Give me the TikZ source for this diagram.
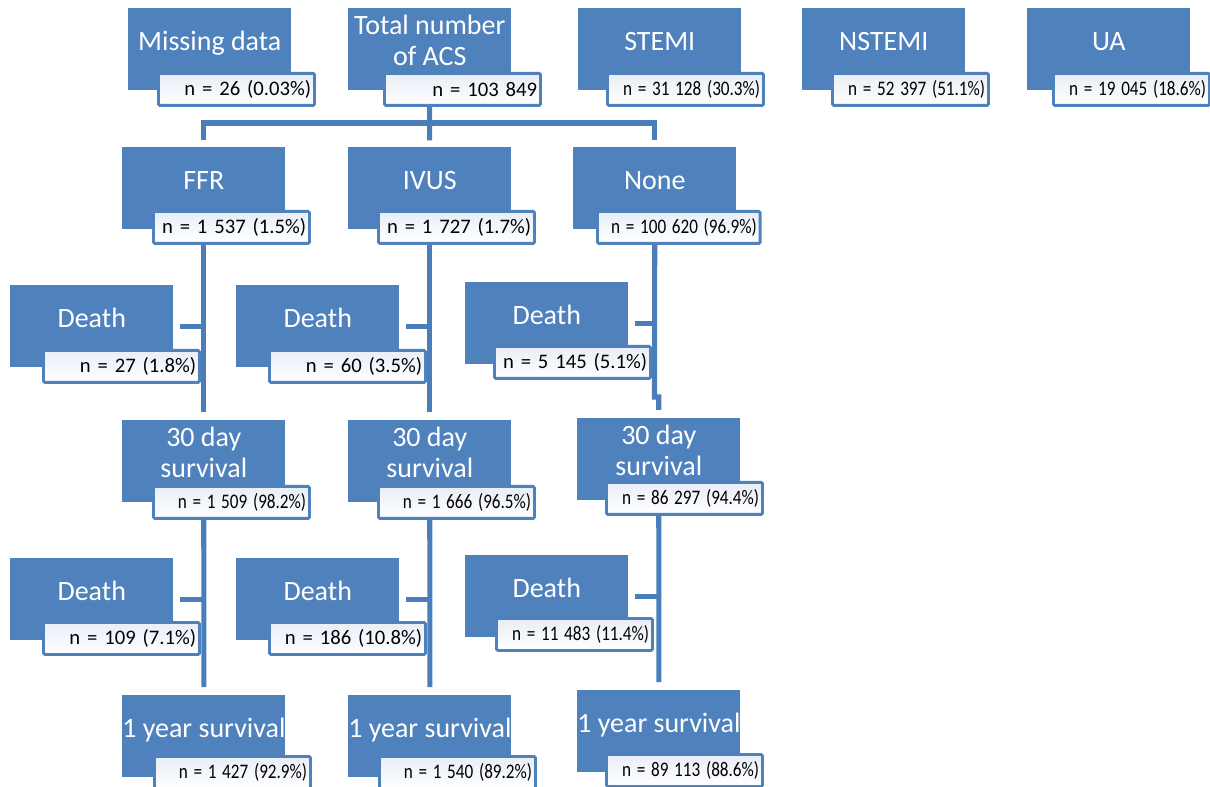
\documentclass[tikz,border=0pt]{standalone}
\usepackage{fontspec}
\setmainfont{Carlito}
\usetikzlibrary{backgrounds}
\definecolor{boxblue}{HTML}{4F81BD}
\definecolor{linkblue}{HTML}{4A7EBA}
\definecolor{lightfill}{HTML}{E8EEF7}
\newcommand\cnd[1]{\scalebox{0.83}[1]{#1}}
\newcommand\nl[1]{\mbox{#1}}
\newcommand\ttl[1]{\raisebox{-1.25pt}[0pt][0pt]{\begin{tabular}{@{}c@{}}#1\end{tabular}}}
\begin{document}
\begin{tikzpicture}[x=0.75pt,y=-0.75pt,
  bluebox/.style={anchor=north west, fill=boxblue, text=white, inner sep=0pt,
    minimum width=122.25pt, minimum height=61.5pt, font=\fontsize{21}{23}\selectfont},
  nbox/.style={anchor=north west, draw=boxblue, line width=2.2pt, top color=lightfill,
    bottom color=white, text=black, inner xsep=2.5pt, inner ysep=0pt, minimum height=24pt,
    text width=112pt, align=right, font=\fontsize{15.5}{18}\selectfont, rounded corners=1pt},
  widenbox/.style={nbox, text width=117pt},
  conn/.style={draw=linkblue, line width=3.8pt}]
\useasboundingbox (0,0) rectangle (1210,787);

% top row
\node[bluebox] (miss) at (128,8) {\ttl{Missing data}};
\node[nbox] (miss-n) at (157,72) {\nl{n = 26 (0.03\%)}};
\node[bluebox] (total) at (348,8) {\ttl{Total number\\of ACS}};
\node[nbox] (total-n) at (383,72) {\nl{n = 103 849}};
\node[bluebox] (stemi) at (578,8) {\ttl{STEMI}};
\node[nbox] (stemi-n) at (606,72) {\cnd{n = 31 128 (30.3\%)}};
\node[bluebox] (nstemi) at (802,8) {\ttl{NSTEMI}};
\node[nbox] (nstemi-n) at (831,72) {\cnd{n = 52 397 (51.1\%)}};
\node[bluebox] (ua) at (1027,8) {\ttl{UA}};
\node[nbox] (ua-n) at (1052,72) {\cnd{n = 19 045 (18.6\%)}};

% second row
\node[bluebox] (ffr) at (122,147) {\ttl{FFR}};
\node[nbox] (ffr-n) at (152,210) {\nl{n = 1 537 (1.5\%)}};
\node[bluebox] (ivus) at (348,147) {\ttl{IVUS}};
\node[nbox] (ivus-n) at (377,210) {\nl{n = 1 727 (1.7\%)}};
\node[bluebox] (none) at (573,147) {\ttl{None}};
\node[widenbox] (none-n) at (596,210) {\cnd{n = 100 620 (96.9\%)}};

% death row 1
\node[bluebox] (da1) at (10,285) {\ttl{Death}};
\node[nbox] (da1-n) at (42,349) {\nl{n = 27 (1.8\%)}};
\node[bluebox] (db1) at (236,285) {\ttl{Death}};
\node[nbox] (db1-n) at (268,349) {\nl{n = 60 (3.5\%)}};
\node[bluebox] (dc1) at (465,282) {\ttl{Death}};
\node[nbox] (dc1-n) at (493,345) {\nl{n = 5 145 (5.1\%)}};

% 30 day row
\node[bluebox] (sa) at (122,420) {\ttl{30 day\\survival}};
\node[nbox] (sa-n) at (152,485) {\cnd{n = 1 509 (98.2\%)}};
\node[bluebox] (sb) at (348,420) {\ttl{30 day\\survival}};
\node[nbox] (sb-n) at (377,485) {\cnd{n = 1 666 (96.5\%)}};
\node[bluebox] (sc) at (577,418) {\ttl{30 day\\survival}};
\node[nbox] (sc-n) at (605,481) {\cnd{n = 86 297 (94.4\%)}};

% death row 2
\node[bluebox] (da2) at (10,558) {\ttl{Death}};
\node[nbox] (da2-n) at (42,621) {\nl{n = 109 (7.1\%)}};
\node[bluebox] (db2) at (236,558) {\ttl{Death}};
\node[nbox] (db2-n) at (268,621) {\nl{n = 186 (10.8\%)}};
\node[bluebox] (dc2) at (465,555) {\ttl{Death}};
\node[nbox] (dc2-n) at (495,617) {\cnd{n = 11 483 (11.4\%)}};

% 1 year row
\node[bluebox] (ya) at (122,695) {\ttl{1 year survival}};
\node[nbox] (ya-n) at (153,755) {\cnd{n = 1 427 (92.9\%)}};
\node[bluebox] (yb) at (348,695) {\ttl{1 year survival}};
\node[nbox] (yb-n) at (378,755) {\cnd{n = 1 540 (89.2\%)}};
\node[bluebox] (yc) at (577,690) {\ttl{1 year survival}};
\node[nbox] (yc-n) at (605,753) {\cnd{n = 89 113 (88.6\%)}};

\begin{scope}[on background layer]
\fill[white] (0,0) rectangle (1210,787);
\coordinate (hub) at (429.5,123);
\coordinate (jog) at (654.5,397);
\draw[conn] (total.south) -- (hub);
\draw[conn, shorten >=5pt] (hub) -| (ffr.north);
\draw[conn, shorten >=5pt] (hub) -| (none.north);
\draw[conn, shorten >=5pt] (hub) -- (ivus.north);
\draw[conn, shorten >=6pt] (ffr.south) -- (sa.north);
\draw[conn, shorten >=6pt] (ivus.south) -- (sb.north);
\draw[conn, shorten >=6pt] (none.south) -- (jog) -| (sc.north);
\draw[conn, shorten >=6pt] (sa.south) -- (ya.north);
\draw[conn, shorten >=6pt] (sb.south) -- (yb.north);
\draw[conn, shorten >=6pt] (sc.south) -- (yc.north);
\draw[conn, shorten <=5pt] (da1.east) -- (da1.east -| ffr.south);
\draw[conn, shorten <=5pt] (db1.east) -- (db1.east -| ivus.south);
\draw[conn, shorten <=5pt] (dc1.east) -- (dc1.east -| none.south);
\draw[conn, shorten <=5pt] (da2.east) -- (da2.east -| sa.south);
\draw[conn, shorten <=5pt] (db2.east) -- (db2.east -| sb.south);
\draw[conn, shorten <=5pt] (dc2.east) -- (dc2.east -| sc.south);
\end{scope}
\end{tikzpicture}
\end{document}
